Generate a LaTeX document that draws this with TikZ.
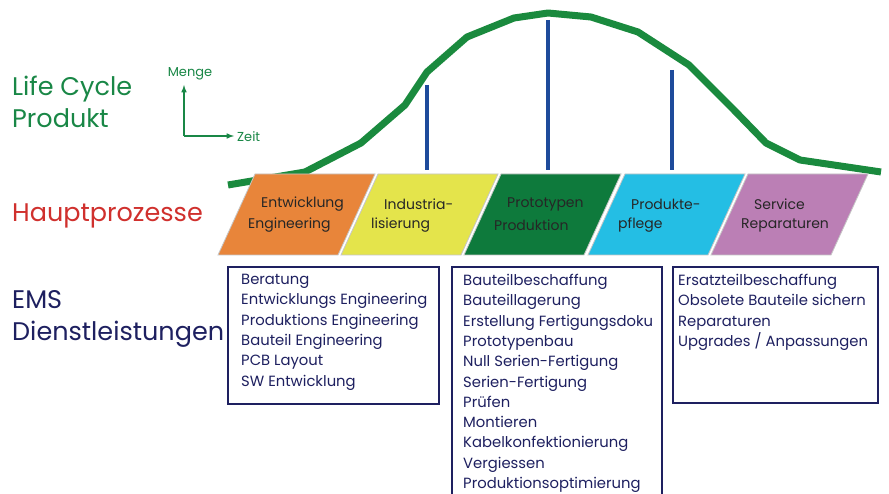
\documentclass[tikz,border=0pt]{standalone}
\usepackage{fontspec}
\setmainfont{Poppins}
\usetikzlibrary{arrows, positioning}
\definecolor{lcGreen}{RGB}{25,135,70}
\definecolor{curveGreen}{RGB}{26,138,62}
\definecolor{hpRed}{RGB}{208,48,45}
\definecolor{emsNavy}{RGB}{30,32,96}
\definecolor{stemBlue}{RGB}{30,75,155}
\definecolor{phOrange}{RGB}{232,133,58}
\definecolor{phYellow}{RGB}{228,228,75}
\definecolor{phGreen}{RGB}{14,122,60}
\definecolor{phCyan}{RGB}{36,190,228}
\definecolor{phMagenta}{RGB}{187,127,181}
\tikzset{
    bigLabel/.style={anchor=base west, inner sep=0pt, font=\fontsize{25.5}{30}\selectfont},
    axisText/.style={inner sep=0pt, text=lcGreen, font=\fontsize{13}{15}\selectfont},
    axisArrow/.style={->, >=latex, draw=lcGreen, line width=1.5pt},
    lcCurve/.style={draw=curveGreen, line width=7pt, line join=round},
    stemLine/.style={draw=stemBlue, line width=3.5pt},
    phase/.style={draw=gray!45, line width=0.8pt},
    phaseText/.style={anchor=west, inner sep=0pt, text=black!85, font=\fontsize{14}{16}\selectfont},
    emsBox/.style={draw=emsNavy, line width=2pt},
    emsList/.style={anchor=north west, align=left, inner sep=0pt, text=emsNavy, font=\fontsize{14.8}{20.3}\selectfont},
}
\newcommand{\drawPhase}[5]{
    % Parallelogramm mit zwei Textzeilen
    \filldraw[phase, fill=#3] (#2,174) -- ++(120,0) -- ++(-37,81) -- ++(-120,0) -- cycle;
    \node[phaseText] (#1a) at (#2+6,204) {#4};
    \node[phaseText] (#1b) at (#2-7,225) {#5};
}

\begin{document}
\begin{tikzpicture}[x=1pt, y=-1pt]
        \clip (0,0) rectangle (889,494);
        \fill[white] (0,0) rectangle (889,494);

        \node[bigLabel, text=lcGreen] (lifecycle) at (12,96) {Life Cycle};
        \node[bigLabel, text=lcGreen] (produkt) at (12,128) {Produkt};
        \node[bigLabel, text=hpRed] (haupt) at (12,222) {Hauptprozesse};
        \node[bigLabel, text=emsNavy] (ems) at (12,309) {EMS};
        \node[bigLabel, text=emsNavy] (dienst) at (12,341) {Dienstleistungen};

        \coordinate (origin) at (184,136);
        \coordinate (mengeTip) at (184,85);
        \coordinate (zeitTip) at (234,136);
        \node[axisText] (menge) at (190,74) {Menge};
        \node[axisText, anchor=west] (zeit) at (237,137) {Zeit};
        \draw[axisArrow] (origin) -- (mengeTip);
        \draw[axisArrow] (origin) -- (zeitTip);

        \draw[lcCurve] plot coordinates {(228,185) (305,172) (361,143) (405,105) (427,72) (467,37) (514,18) (548,13) (591,17) (638,32) (689,65) (732,108) (766,143) (800,160) (881,172)};

        \coordinate (s1top) at (427,85);
        \coordinate (s1bot) at (427,170);
        \coordinate (s2top) at (548,20);
        \coordinate (s2bot) at (548,170);
        \coordinate (s3top) at (672,70);
        \coordinate (s3bot) at (672,170);
        \draw[stemLine] (s1top) -- (s1bot);
        \draw[stemLine] (s2top) -- (s2bot);
        \draw[stemLine] (s3top) -- (s3bot);

        \drawPhase{entw}{255}{phOrange}{Entwicklung}{Engineering}
        \drawPhase{indu}{378}{phYellow}{Industria-}{lisierung}
        \drawPhase{prot}{501}{phGreen}{Prototypen}{Produktion}
        \drawPhase{pfle}{625}{phCyan}{Produkte-}{pflege}
        \drawPhase{serv}{748}{phMagenta}{Service}{Reparaturen}

        \draw[emsBox] (228,267) rectangle (439,404);
        \draw[emsBox] (452,267) rectangle (662,500);
        \draw[emsBox] (673,267) rectangle (878,403);
        \node[emsList] (listA) at (241,274) {Beratung\\Entwicklungs Engineering\\Produktions Engineering\\Bauteil Engineering\\PCB Layout\\SW Entwicklung};
        \node[emsList] (listB) at (463,274) {Bauteilbeschaffung\\Bauteillagerung\\Erstellung Fertigungsdoku\\Prototypenbau\\Null Serien-Fertigung\\Serien-Fertigung\\Prüfen\\Montieren\\Kabelkonfektionierung\\Vergiessen\\Produktionsoptimierung};
        \node[emsList] (listC) at (678,274) {Ersatzteilbeschaffung\\Obsolete Bauteile sichern\\Reparaturen\\Upgrades / Anpassungen};

    \end{tikzpicture}
\end{document}
